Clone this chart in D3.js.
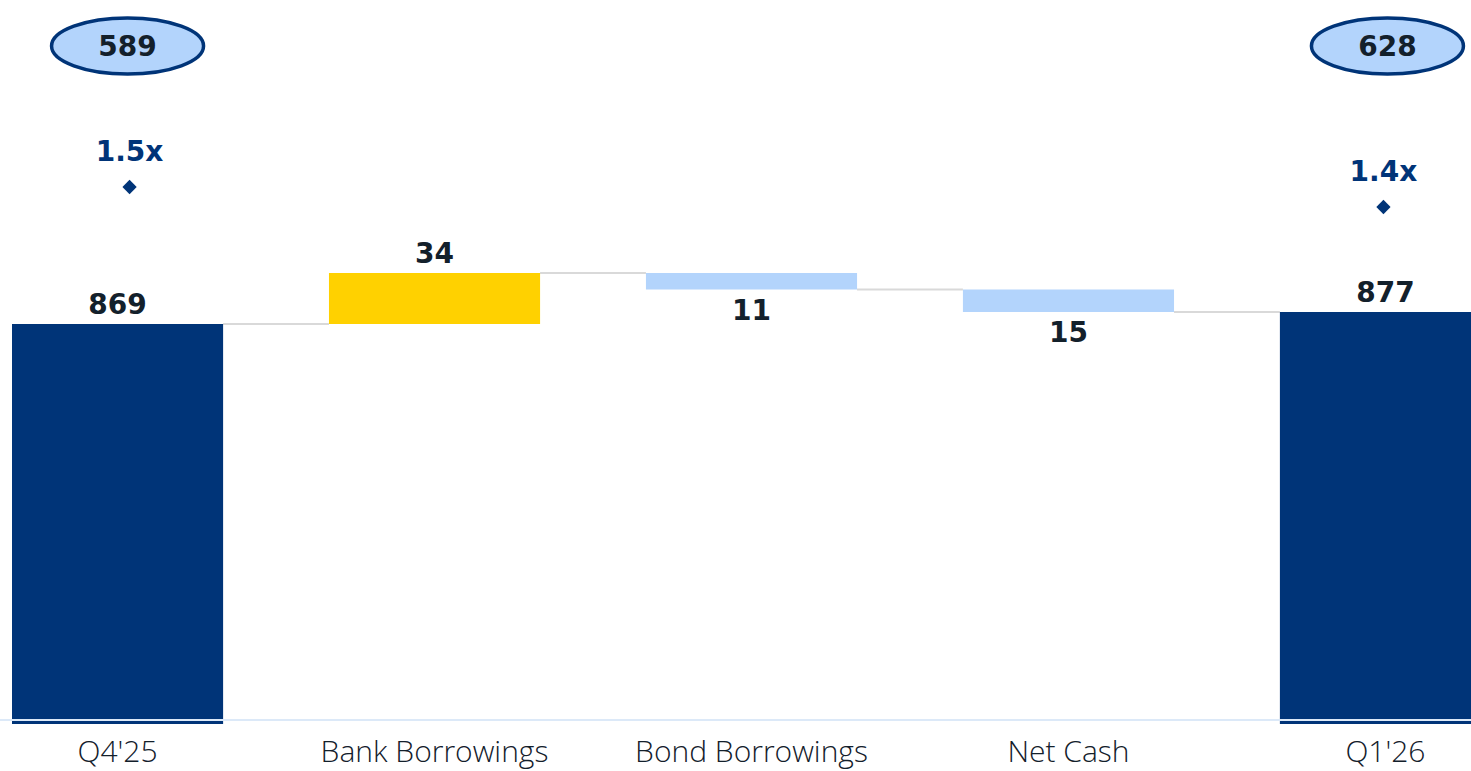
<!DOCTYPE html>
<html>
<head>
<meta charset="utf-8">
<script src="https://cdn.jsdelivr.net/npm/d3@7"></script>
<style>
  html, body { margin: 0; padding: 0; background: #ffffff; }
  svg { display: block; }
</style>
</head>
<body>
<svg id="chart" width="1471" height="771"></svg>
<script>
// Net debt bridge, Q4'25 to Q1'26
const categories = ["Q4'25", "Bank Borrowings", "Bond Borrowings", "Net Cash", "Q1'26"];
const kinds = ["total", "increase", "decrease", "decrease", "total"];
const amounts = [869, 34, -11, -15, 877];
const labelText = ["869", "34", "11", "15", "877"];

// Badges above the two totals and leverage ratios
const badgeCategories = ["Q4'25", "Q1'26"];
const badgeValues = ["589", "628"];
const leverageValues = [1.5, 1.4];
const leverageLabels = ["1.5x", "1.4x"];

const colors = { total: "#003478", increase: "#ffd100", decrease: "#b3d4fc" };
const textDark = "#13202b";
const navy = "#003478";
const boldFont = "'DejaVu Sans', 'Open Sans', sans-serif";

const svg = d3.select("#chart");

const x = d3.scaleBand()
  .domain(categories)
  .range([12, 1491])
  .paddingInner(0.334)
  .paddingOuter(0);

// Value axis starts above zero (broken axis), baseline at y = 720
const y = d3.scaleLinear().domain([605, 905]).range([720, 270]);
const yLev = d3.scaleLinear().domain([1.0, 1.6]).range([287, 167]);
const baseY = 724;

// Running levels for the bridge
const bars = [];
let level = 0;
categories.forEach((c, i) => {
  const k = kinds[i];
  let y0, y1;
  if (k === "total") {
    level = amounts[i];
    y0 = null; y1 = amounts[i];
  } else {
    y0 = level; y1 = level + amounts[i];
    level = y1;
  }
  bars.push({ cat: c, kind: k, start: y0, end: y1, label: labelText[i] });
});

// Connectors between consecutive bars
const gConn = svg.append("g");
for (let i = 0; i < bars.length - 1; i++) {
  const lvl = bars[i].end;
  gConn.append("line")
    .attr("x1", x(bars[i].cat) + x.bandwidth())
    .attr("x2", x(bars[i + 1].cat))
    .attr("y1", y(lvl))
    .attr("y2", y(lvl))
    .attr("stroke", "#d9d9d9")
    .attr("stroke-width", 2);
}

// Bars
svg.append("g").selectAll("rect")
  .data(bars)
  .join("rect")
  .attr("x", d => x(d.cat))
  .attr("width", x.bandwidth())
  .attr("y", d => d.kind === "total" ? y(d.end) : y(Math.max(d.start, d.end)))
  .attr("height", d => d.kind === "total" ? baseY - y(d.end) : Math.abs(y(d.start) - y(d.end)))
  .attr("fill", d => colors[d.kind]);

// Baseline
svg.append("line")
  .attr("x1", 0).attr("x2", 1471)
  .attr("y1", 720).attr("y2", 720)
  .attr("stroke", "#dce9f8")
  .attr("stroke-width", 2);

// Value labels
svg.append("g").selectAll("text")
  .data(bars)
  .join("text")
  .attr("x", d => x(d.cat) + x.bandwidth() / 2)
  .attr("y", d => {
    if (d.kind === "decrease") return y(d.end) + 30;
    const top = d.kind === "total" ? y(d.end) : y(Math.max(d.start, d.end));
    return top - 10;
  })
  .attr("text-anchor", "middle")
  .attr("font-family", boldFont)
  .attr("font-weight", 700)
  .attr("font-size", 28)
  .attr("fill", textDark)
  .text(d => d.label);

// Category labels
svg.append("g").selectAll("text")
  .data(categories)
  .join("text")
  .attr("x", d => x(d) + x.bandwidth() / 2)
  .attr("y", 762)
  .attr("text-anchor", "middle")
  .attr("font-family", "'Open Sans', Roboto, sans-serif")
  .attr("font-weight", 300)
  .attr("font-size", 30)
  .attr("fill", textDark)
  .text(d => d);

// Badges
const gBadge = svg.append("g");
badgeCategories.forEach((c, i) => {
  const cx = x(c) + x.bandwidth() / 2 + (i === 0 ? 10 : 2);
  gBadge.append("ellipse")
    .attr("cx", cx).attr("cy", 46)
    .attr("rx", 76).attr("ry", 28)
    .attr("fill", "#b3d4fc")
    .attr("stroke", navy)
    .attr("stroke-width", 3.5);
  gBadge.append("text")
    .attr("x", cx).attr("y", 56)
    .attr("text-anchor", "middle")
    .attr("font-family", boldFont)
    .attr("font-weight", 700)
    .attr("font-size", 28)
    .attr("fill", textDark)
    .text(badgeValues[i]);
});

// Leverage markers
const gLev = svg.append("g");
badgeCategories.forEach((c, i) => {
  const cx = x(c) + x.bandwidth() / 2 + (i === 0 ? 12 : -2);
  const cy = yLev(leverageValues[i]);
  gLev.append("path")
    .attr("d", d3.symbol().type(d3.symbolDiamond2).size(130)())
    .attr("transform", `translate(${cx},${cy})`)
    .attr("fill", navy);
  gLev.append("text")
    .attr("x", cx).attr("y", cy - 26)
    .attr("text-anchor", "middle")
    .attr("font-family", boldFont)
    .attr("font-weight", 700)
    .attr("font-size", 28)
    .attr("fill", navy)
    .text(leverageLabels[i]);
});
</script>
</body>
</html>
